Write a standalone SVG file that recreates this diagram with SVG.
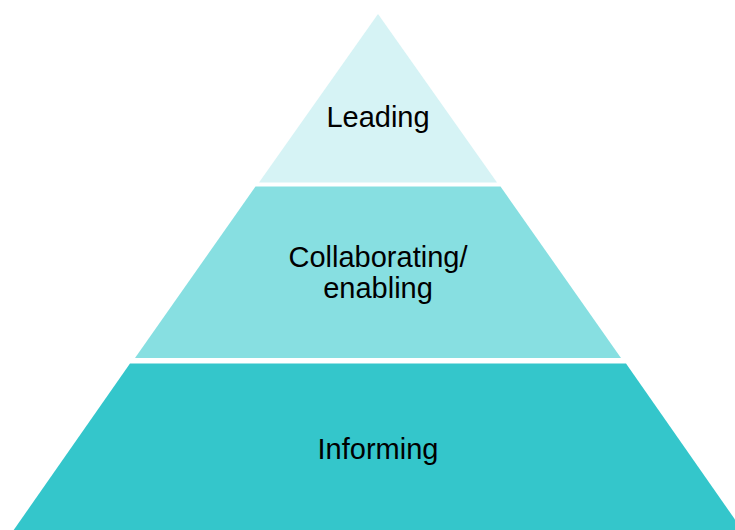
<svg xmlns="http://www.w3.org/2000/svg" width="735" height="530" viewBox="0 0 735 530">
  <style>
    .lbl { font-family: "Liberation Sans", Arial, sans-serif; font-size: 29px; fill: #000; text-anchor: middle; }
    .t1 { fill: #D6F3F5; }
    .t2 { fill: #87DFE1; }
    .t3 { fill: #34C6CB; }
  </style>
  <rect width="735" height="530" fill="#FFFFFF"/>
  <!-- top tier -->
  <g id="leading">
    <polygon class="t1" points="378,14 497,182.5 259,182.5"/>
    <text class="lbl" x="378" y="127">Leading</text>
  </g>
  <!-- middle tier -->
  <g id="collaborating">
    <polygon class="t2" points="255.5,186.5 500.5,186.5 621,358 135,358"/>
    <text class="lbl" x="378" y="267">Collaborating/</text>
    <text class="lbl" x="378" y="298">enabling</text>
  </g>
  <!-- bottom tier -->
  <g id="informing">
    <polygon class="t3" points="130,363.5 626,363.5 743,531 13,531"/>
    <text class="lbl" x="378" y="459">Informing</text>
  </g>
  <g id="connectors"/>
</svg>
